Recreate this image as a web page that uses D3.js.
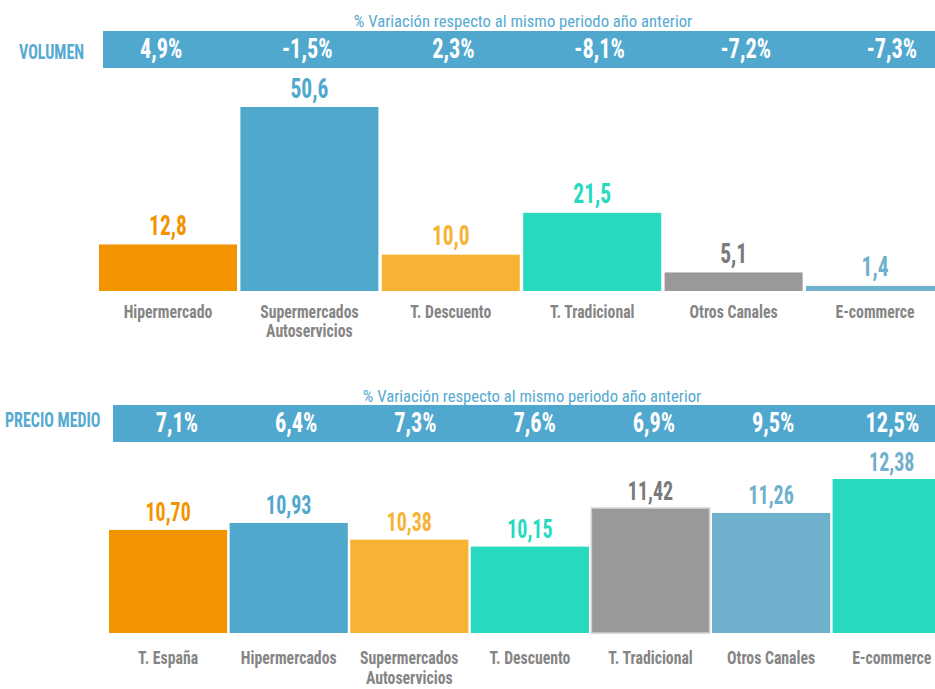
<!DOCTYPE html>
<html>
<head>
<meta charset="utf-8">
<script src="https://cdn.jsdelivr.net/npm/d3@7"></script>
<style>
  html, body { margin: 0; padding: 0; background: #ffffff; }
  svg { display: block; }
  text { font-family: "Roboto Condensed", "Liberation Sans Narrow", "Arial Narrow", "DejaVu Sans Condensed", sans-serif; }
</style>
</head>
<body>
<svg id="chart" width="935" height="689"></svg>
<script>
// Volumen por canal (millones) y variación interanual
const volCategories = ["Hipermercado", "Supermercados\nAutoservicios", "T. Descuento", "T. Tradicional", "Otros Canales", "E-commerce"];
const volValues = [12.8, 50.6, 10.0, 21.5, 5.1, 1.4];
const volChange = [4.9, -1.5, 2.3, -8.1, -7.2, -7.3];

// Precio medio por canal (€/kg) y variación interanual
const priceCategories = ["T. España", "Hipermercados", "Supermercados\nAutoservicios", "T. Descuento", "T. Tradicional", "Otros Canales", "E-commerce"];
const priceValues = [10.70, 10.93, 10.38, 10.15, 11.42, 11.26, 12.38];
const priceChange = [7.1, 6.4, 7.3, 7.6, 6.9, 9.5, 12.5];

const subtitleText = "% Variación respecto al mismo periodo año anterior";

// Colores de barras y de sus etiquetas
const volBarColors   = ["#f29400", "#50a8cd", "#f6b334", "#26d9bf", "#999999", "#6fb0cd"];
const volLabelColors = ["#f29400", "#50a8cd", "#f6b334", "#26d9bf", "#7a7a7a", "#6fb0cd"];
const priceBarColors   = ["#f29400", "#50a8cd", "#f6b334", "#26d9bf", "#999999", "#6fb0cd", "#26d9bf"];
const priceLabelColors = ["#f29400", "#50a8cd", "#f6b334", "#26d9bf", "#7a7a7a", "#6fb0cd", "#6fb0cd"];

const bandColor = "#51a8cf";
const titleColor = "#55aad1";
const catColor = "#858585";

const locale = d3.formatLocale({ decimal: ",", thousands: ".", grouping: [3], currency: ["", " €"], minus: "-" });
const f1 = locale.format(".1f");
const f2 = locale.format(".2f");
const fPct = v => f1(v) + "%";

const svg = d3.select("#chart");

// Texto centrado con compresión horizontal opcional
function label(g, x, y, str, opts) {
  const sx = opts.sx || 1;
  return g.append("text")
    .attr("transform", `translate(${x},${y}) scale(${sx},1)`)
    .attr("text-anchor", opts.anchor || "middle")
    .attr("font-size", opts.size)
    .attr("font-weight", opts.weight || "bold")
    .attr("fill", opts.color)
    .text(str);
}

function panel(cfg) {
  const g = svg.append("g");

  // Subtítulo de la franja
  label(g, cfg.subX, cfg.subY, subtitleText, { size: 17, weight: "normal", color: titleColor, sx: 0.98 });

  // Franja de variación
  g.append("rect")
    .attr("x", cfg.bandX).attr("y", cfg.bandY)
    .attr("width", 935 - cfg.bandX).attr("height", cfg.bandH)
    .attr("fill", bandColor);

  label(g, cfg.titleX, cfg.titleY, cfg.title, { size: 19.5, color: titleColor, anchor: "start", sx: 0.82 });

  const xPct = d3.scaleBand().domain(d3.range(cfg.categories.length)).range(cfg.pctRange);
  cfg.changes.forEach((v, i) => {
    label(g, xPct(i) + xPct.bandwidth() / 2, cfg.pctY, fPct(v), { size: 28, color: "#ffffff", sx: 0.8 });
  });

  // Barras
  const x = d3.scaleBand().domain(d3.range(cfg.categories.length))
    .range(cfg.xRange).paddingInner(cfg.padIn).paddingOuter(cfg.padIn / 2);
  const y = d3.scaleLinear().domain(cfg.yDomain).range(cfg.yRange);

  g.selectAll("rect.bar").data(cfg.values).join("rect")
    .attr("class", "bar")
    .attr("x", (d, i) => x(i))
    .attr("y", d => y(d))
    .attr("width", x.bandwidth())
    .attr("height", d => y(cfg.yDomain[0]) - y(d))
    .attr("fill", (d, i) => cfg.barColors[i])
    .attr("stroke", (d, i) => cfg.stroke && cfg.stroke[i] ? cfg.stroke[i] : null)
    .attr("stroke-width", 1.5);

  cfg.values.forEach((v, i) => {
    label(g, x(i) + x.bandwidth() / 2, y(v) - cfg.valGap, cfg.fmt(v),
      { size: cfg.valSize, color: cfg.labelColors[i], sx: cfg.valSx });
  });

  // Etiquetas de categoría
  cfg.categories.forEach((c, i) => {
    c.split("\n").forEach((line, k) => {
      label(g, x(i) + x.bandwidth() / 2, cfg.catY + k * cfg.catLH, line, { size: 17.5, color: catColor, sx: 0.9 });
    });
  });
}

panel({
  title: "VOLUMEN", titleX: 19, titleY: 59.3,
  subX: 523, subY: 26.5,
  bandX: 103, bandY: 31, bandH: 37,
  pctRange: [88, 965], pctY: 58.3,
  categories: volCategories, values: volValues, changes: volChange,
  barColors: volBarColors, labelColors: volLabelColors,
  xRange: [97.3, 945.7], padIn: 0.024,
  yDomain: [0, 50.6], yRange: [291, 107],
  valGap: 9.5, valSize: 27.5, valSx: 0.78, fmt: f1,
  catY: 318.3, catLH: 18.4
});

panel({
  title: "PRECIO MEDIO", titleX: 5, titleY: 427.3,
  subX: 532, subY: 401.7,
  bandX: 113, bandY: 405, bandH: 37,
  pctRange: [117.3, 952], pctY: 431.7,
  categories: priceCategories, values: priceValues, changes: priceChange,
  barColors: priceBarColors, labelColors: priceLabelColors,
  stroke: [null, null, null, null, "#cfcfcf", null, null],
  xRange: [107.8, 952], padIn: 0.02,
  yDomain: [7.3, 12.38], yRange: [633, 479],
  valGap: 8.5, valSize: 25, valSx: 0.8, fmt: f2,
  catY: 663.5, catLH: 20.5
});
</script>
</body>
</html>
